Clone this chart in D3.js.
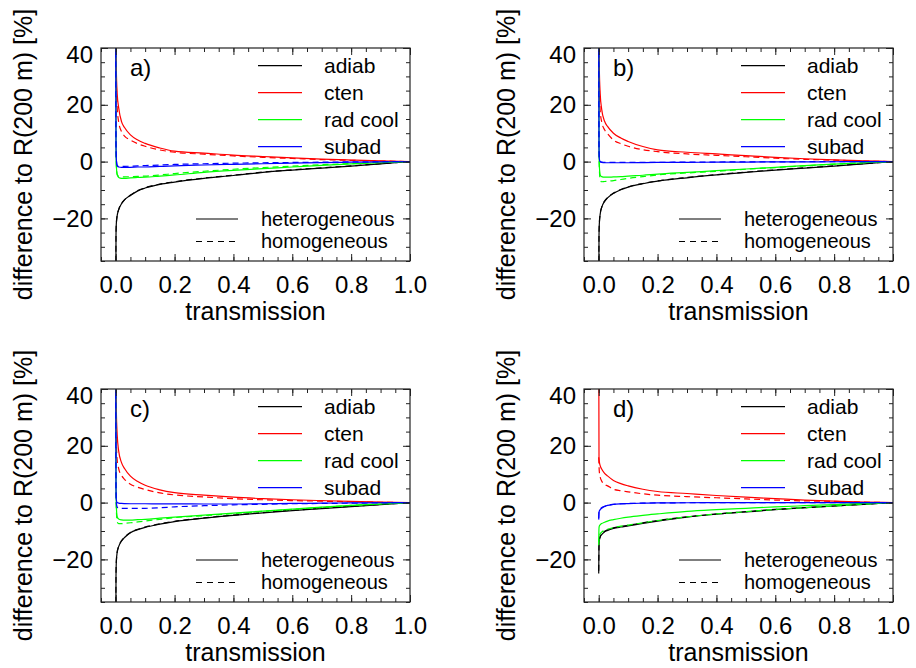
<!DOCTYPE html>
<html>
<head>
<meta charset="utf-8">
<script src="https://cdn.jsdelivr.net/npm/d3@7"></script>
<style>
  body { margin: 0; background: #fff; }
  text { font-family: 'Liberation Sans', Arial, Helvetica, sans-serif; fill: #000; }
</style>
</head>
<body>
<div id="chart"></div>
<script>
const transmission = [0, 0.001, 0.002, 0.005, 0.01, 0.02, 0.03, 0.05, 0.075, 0.1, 0.15, 0.2, 0.3, 0.4, 0.5, 0.6, 0.7, 0.8, 0.9, 1.0]

// panel a)
const adiabHetA = [-60, -26, -22, -19, -17, -14.8, -13.5, -11.9, -10.3, -9.3, -8.0, -7.2, -5.9, -4.9, -3.8, -3.0, -2.3, -1.6, -0.8, 0]
const adiabHomA = [-60, -26, -22, -19, -16.9, -14.7, -13.4, -11.8, -10.2, -9.2, -7.9, -7.1, -5.8, -4.8, -3.7, -2.9, -2.2, -1.5, -0.75, 0]
const ctenHetA = [90, 40, 33, 24, 19, 14, 12, 9.4, 7.6, 6.4, 4.8, 3.7, 3.0, 2.3, 1.8, 1.3, 0.9, 0.55, 0.25, 0]
const ctenHomA = [90, 35, 28, 19, 14, 10.5, 9, 7.6, 6.3, 5.4, 4.1, 3.3, 2.6, 2.0, 1.5, 1.1, 0.7, 0.45, 0.2, 0]
const radHetA = [60, 5, -1, -4.7, -5.6, -5.9, -5.9, -5.7, -5.6, -5.5, -5.1, -4.7, -3.8, -3.1, -2.5, -1.9, -1.3, -0.8, -0.4, 0]
const radHomA = [60, 5, -1, -4.4, -5.2, -5.4, -5.4, -5.3, -5.2, -5.1, -4.7, -4.2, -3.4, -2.7, -2.1, -1.6, -1.1, -0.7, -0.3, 0]
const subadHetA = [60, 6, 1, -1.5, -1.9, -2.0, -2.0, -2.0, -1.9, -1.9, -1.7, -1.5, -1.2, -0.95, -0.75, -0.55, -0.35, -0.2, -0.1, 0]
const subadHomA = [60, 6, 1, -1.3, -1.7, -1.7, -1.7, -1.6, -1.5, -1.4, -1.2, -1.0, -0.75, -0.55, -0.4, -0.3, -0.2, -0.1, -0.05, 0]

// panel b)
const adiabHetB = [-60, -26, -22, -18.5, -16.2, -14, -12.8, -11.2, -9.9, -9.0, -7.8, -6.9, -5.7, -4.7, -3.8, -3.0, -2.3, -1.6, -0.8, 0]
const adiabHomB = [-60, -26, -22, -18.4, -16.1, -13.9, -12.7, -11.1, -9.8, -8.9, -7.7, -6.8, -5.6, -4.6, -3.7, -2.9, -2.2, -1.5, -0.75, 0]
const ctenHetB = [90, 40, 33, 24, 18.5, 14.2, 12.4, 10, 8.3, 7.1, 5.3, 4.1, 3.3, 2.7, 2.1, 1.5, 1.0, 0.6, 0.3, 0]
const ctenHomB = [90, 34, 27, 18, 14, 11.2, 9.8, 7.6, 6.3, 5.4, 4.2, 3.5, 2.7, 2.2, 1.7, 1.2, 0.8, 0.5, 0.2, 0]
const radHetB = [60, 5, -1, -4.7, -5.3, -5.5, -5.5, -5.4, -5.3, -5.1, -4.8, -4.4, -3.8, -3.2, -2.6, -2.0, -1.4, -0.9, -0.4, 0]
const radHomB = [60, 5, -2, -6.5, -7.1, -7.0, -6.9, -6.7, -6.3, -5.9, -5.3, -4.7, -4.0, -3.4, -2.7, -2.1, -1.5, -0.9, -0.4, 0]
const subadHetB = [60, 5, 1, 0, -0.3, -0.4, -0.4, -0.4, -0.4, -0.4, -0.35, -0.3, -0.25, -0.2, -0.15, -0.1, -0.1, -0.05, 0, 0]
const subadHomB = [60, 5, 1, 0, -0.2, -0.3, -0.3, -0.3, -0.3, -0.3, -0.3, -0.25, -0.2, -0.15, -0.1, -0.1, -0.05, 0, 0, 0]

// panel c)
const adiabHetC = [-60, -26, -21, -17.5, -15.5, -13.5, -12.3, -10.6, -9.5, -8.7, -7.6, -6.7, -5.5, -4.5, -3.6, -2.8, -2.1, -1.4, -0.7, 0]
const adiabHomC = [-60, -26, -21, -17.4, -15.4, -13.4, -12.2, -10.5, -9.4, -8.6, -7.5, -6.6, -5.4, -4.4, -3.5, -2.7, -2.0, -1.3, -0.65, 0]
const ctenHetC = [90, 40, 33, 24, 18.2, 14, 12, 9.3, 7.4, 6.1, 4.5, 3.5, 2.6, 1.9, 1.4, 1.0, 0.7, 0.4, 0.2, 0]
const ctenHomC = [90, 30, 22, 15, 12, 9.5, 8.2, 6.5, 5.4, 4.6, 3.4, 2.7, 2.0, 1.4, 1.0, 0.7, 0.5, 0.3, 0.1, 0]
const radHetC = [60, 5, -1, -5, -5.8, -6.1, -6.2, -6.2, -6.0, -5.9, -5.5, -5.1, -4.4, -3.7, -3.0, -2.3, -1.6, -1.0, -0.5, 0]
const radHomC = [60, 5, -2, -6.8, -7.4, -7.4, -7.3, -7.1, -6.8, -6.5, -5.9, -5.3, -4.6, -3.9, -3.1, -2.4, -1.7, -1.0, -0.5, 0]
const subadHetC = [60, 5, 1, 0, -0.2, -0.3, -0.35, -0.4, -0.4, -0.4, -0.45, -0.45, -0.5, -0.5, -0.4, -0.3, -0.2, -0.1, -0.05, 0]
const subadHomC = [60, 5, 0, -1.6, -2.0, -2.0, -2.0, -2.0, -2.0, -2.0, -1.8, -1.5, -1.1, -0.8, -0.6, -0.4, -0.3, -0.2, -0.1, 0]

// panel d)
const adiabHetD = [-25, -15, -13.5, -12.2, -11.3, -10.3, -9.8, -9.1, -8.6, -8.2, -7.3, -6.5, -5.1, -4.1, -3.3, -2.5, -1.8, -1.2, -0.6, 0]
const adiabHomD = [-24, -14.6, -13, -11.8, -11, -10.1, -9.6, -8.9, -8.4, -8.0, -7.1, -6.3, -5.0, -4.0, -3.2, -2.4, -1.8, -1.2, -0.6, 0]
const ctenHetD = [60, 16, 14.5, 13, 11.8, 10.3, 9.4, 7.8, 6.7, 5.9, 4.7, 3.9, 3.2, 2.5, 1.9, 1.4, 0.9, 0.5, 0.2, 0]
const ctenHomD = [16, 13, 11, 9, 7.6, 6.4, 5.9, 4.7, 4.2, 3.8, 3.1, 2.6, 2.1, 1.7, 1.3, 0.9, 0.6, 0.4, 0.15, 0]
const radHetD = [-14, -9, -8.3, -7.8, -7.4, -6.9, -6.5, -6.0, -5.5, -5.1, -4.5, -4.0, -3.1, -2.5, -2.0, -1.5, -1.1, -0.7, -0.3, 0]
const radHomD = [-15, -13, -12, -11, -10.4, -9.8, -9.4, -8.8, -8.3, -7.9, -7.1, -6.3, -5.0, -4.0, -3.2, -2.4, -1.8, -1.2, -0.6, 0]
const subadHetD = [-6, -3.5, -3, -2.5, -2.0, -1.4, -1.0, -0.65, -0.45, -0.35, -0.2, -0.1, -0.05, 0, 0, 0, 0, 0, 0, 0]
const subadHomD = [-5.5, -3.3, -2.8, -2.3, -1.8, -1.3, -0.95, -0.6, -0.4, -0.3, -0.2, -0.1, -0.05, 0, 0, 0, 0, 0, 0, 0]

const panelLabels = ['a)', 'b)', 'c)', 'd)']
const seriesNames = ['adiab', 'cten', 'rad cool', 'subad']
const seriesColors = ['#000000', '#ff0000', '#00ff00', '#0000ff']
const caseNames = ['heterogeneous', 'homogeneous']
const xTickValues = [0, 0.2, 0.4, 0.6, 0.8, 1.0]
const yTickValues = [-20, 0, 20, 40]

let hetSeries = [
  [adiabHetA, ctenHetA, radHetA, subadHetA],
  [adiabHetB, ctenHetB, radHetB, subadHetB],
  [adiabHetC, ctenHetC, radHetC, subadHetC],
  [adiabHetD, ctenHetD, radHetD, subadHetD]
]
let homSeries = [
  [adiabHomA, ctenHomA, radHomA, subadHomA],
  [adiabHomB, ctenHomB, radHomB, subadHomB],
  [adiabHomC, ctenHomC, radHomC, subadHomC],
  [adiabHomD, ctenHomD, radHomD, subadHomD]
]

let width = 916
let height = 668
let plotW = 309
let plotH = 213
let origins = [[101, 48], [584, 48], [101, 389], [584, 389]]
let dash = '6,4'
let axisColor = '#222'

let svg = d3
  .select('#chart')
  .append('svg')
  .attr('width', width)
  .attr('height', height)
  .style('background', '#fff')

let xScale = d3.scaleLinear().domain([-0.05, 1.0]).range([0, plotW])
let yScale = d3.scaleLinear().domain([-35, 40]).range([plotH, 0])

let line = d3
  .line()
  .x(d => xScale(d[0]))
  .y(d => yScale(d[1]))
  .curve(d3.curveMonotoneX)

function styleAxis(g) {
  g.select('.domain').remove()
  g.selectAll('line').attr('stroke', axisColor).attr('stroke-width', 1)
  g.selectAll('text')
    .attr('font-family', "'Liberation Sans', Arial, Helvetica, sans-serif")
    .attr('font-size', 24)
    .attr('fill', '#000')
}

panelLabels.forEach((label, p) => {
  let [ox, oy] = origins[p]
  let g = svg.append('g').attr('transform', `translate(${ox}, ${oy})`)

  g.append('clipPath')
    .attr('id', 'clip' + p)
    .append('rect')
    .attr('width', plotW)
    .attr('height', plotH)

  /* curves */
  let curves = g.append('g').attr('clip-path', `url(#clip${p})`)
  seriesNames.forEach((name, s) => {
    ;[hetSeries[p][s], homSeries[p][s]].forEach((vals, k) => {
      let pts = transmission.map((t, i) => [t, vals[i]])
      curves
        .append('path')
        .attr('d', line(pts))
        .attr('fill', 'none')
        .attr('stroke', seriesColors[s])
        .attr('stroke-width', 1.2)
        .attr('stroke-dasharray', k === 1 ? dash : null)
    })
  })

  /* axes: major and minor ticks on all four sides, pointing inward */
  let xMinor = xScale.ticks(20)
  let yMinor = yScale.ticks(15)

  g.append('g')
    .attr('transform', `translate(0, ${plotH})`)
    .call(d3.axisBottom(xScale).tickValues(xMinor).tickSize(-4).tickFormat(''))
    .call(styleAxis)
  g.append('g')
    .attr('transform', `translate(0, ${plotH})`)
    .call(d3.axisBottom(xScale).tickValues(xTickValues).tickSize(-7).tickPadding(15).tickFormat(d3.format('.1f')))
    .call(styleAxis)
  g.append('g')
    .call(d3.axisTop(xScale).tickValues(xMinor).tickSize(-4).tickFormat(''))
    .call(styleAxis)
  g.append('g')
    .call(d3.axisTop(xScale).tickValues(xTickValues).tickSize(-7).tickFormat(''))
    .call(styleAxis)

  g.append('g')
    .call(d3.axisLeft(yScale).tickValues(yMinor).tickSize(-4).tickFormat(''))
    .call(styleAxis)
  let yAx = g.append('g')
    .call(d3.axisLeft(yScale).tickValues(yTickValues).tickSize(-7).tickPadding(8))
    .call(styleAxis)
  yAx.selectAll('.tick text').filter(d => d === 40).attr('dy', '0.62em')
  g.append('g')
    .attr('transform', `translate(${plotW}, 0)`)
    .call(d3.axisRight(yScale).tickValues(yMinor).tickSize(-4).tickFormat(''))
    .call(styleAxis)
  g.append('g')
    .attr('transform', `translate(${plotW}, 0)`)
    .call(d3.axisRight(yScale).tickValues(yTickValues).tickSize(-7).tickFormat(''))
    .call(styleAxis)

  g.append('rect')
    .attr('width', plotW)
    .attr('height', plotH)
    .attr('fill', 'none')
    .attr('stroke', axisColor)
    .attr('stroke-width', 1.2)

  /* titles */
  g.append('text')
    .attr('x', plotW / 2)
    .attr('y', plotH + 59)
    .attr('text-anchor', 'middle')
    .attr('font-size', 25)
    .text('transmission')

  g.append('text')
    .attr('transform', `translate(-69, ${plotH / 2}) rotate(-90)`)
    .attr('text-anchor', 'middle')
    .attr('font-size', 25)
    .text('difference to R(200 m) [%]')

  g.append('text')
    .attr('x', 29)
    .attr('y', 28)
    .attr('font-size', 24)
    .text(label)

  /* legend: model runs */
  seriesNames.forEach((name, s) => {
    let ly = 17.7 + 27 * s
    g.append('line')
      .attr('x1', 157).attr('x2', 201)
      .attr('y1', ly).attr('y2', ly)
      .attr('stroke', seriesColors[s])
      .attr('stroke-width', 1.2)
    g.append('text')
      .attr('x', 223)
      .attr('y', ly + 7)
      .attr('font-size', 21)
      .text(name)
  })

  /* legend: line styles */
  caseNames.forEach((name, k) => {
    let ly = 171 + 22.5 * k
    g.append('line')
      .attr('x1', 95).attr('x2', 137)
      .attr('y1', ly).attr('y2', ly)
      .attr('stroke', '#000')
      .attr('stroke-width', 1.2)
      .attr('stroke-dasharray', k === 1 ? '6,5' : null)
    g.append('text')
      .attr('x', 160)
      .attr('y', ly + 6.5)
      .attr('font-size', 20)
      .text(name)
  })
})
</script>
</body>
</html>
